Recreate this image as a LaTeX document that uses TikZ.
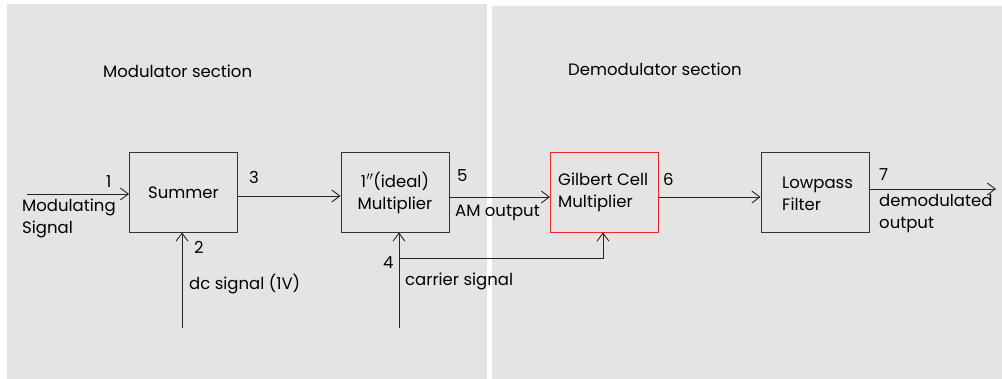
\documentclass[tikz,border=0pt]{standalone}
\usepackage{fontspec}
\setmainfont{Poppins}
\usetikzlibrary{arrows.meta}
\definecolor{panel}{RGB}{228,228,228}
\definecolor{gilred}{RGB}{235,40,40}
\tikzset{
  blk/.style={draw=black!80, line width=0.9pt, minimum width=108pt, minimum height=80pt, inner sep=0pt, align=left},
  arr/.style={line width=0.9pt, draw=black!85, -{Straight Barb[length=8pt,width=12pt,line width=0.9pt]}},
  lbl/.style={inner sep=0pt, anchor=west, align=left, font=\fontsize{16.5}{22}\selectfont},
}
\begin{document}
\begin{tikzpicture}[x=1pt,y=-1pt]
\useasboundingbox (0,0) rectangle (1002,379);
\fill[white] (0,0) rectangle (1002,379);
\fill[panel] (7,4) rectangle (487,379);
\fill[panel] (492,6) rectangle (1002,379);

\node[lbl] (tmod) at (103,71) {Modulator section};
\node[lbl] (tdem) at (568,69) {Demodulator section};

\node[blk] (sum) at (183.5,192) {};
\node[lbl] (sumt) at (148,193) {Summer};
\node[blk] (mul) at (395,192) {};
\node[lbl, align=center, anchor=center] (mult) at (395,192.5) {1$^{\prime\prime}$(ideal)\\Multiplier};
\node[blk, draw=gilred] (gil) at (604.5,192) {};
\node[lbl] (gilt) at (558,192.5) {Gilbert Cell\\Multiplier};
\node[blk] (lp) at (815,192) {};
\node[lbl] (lpt) at (782,193.5) {Lowpass\\Filter};

% input
\coordinate (in) at (27,194);
\draw[arr] (in) -- (sum.west |- in);
\node[lbl] (n1) at (106,182) {1};
\node[lbl] (tmodsig) at (22,218.5) {Modulating\\Signal};

% dc
\coordinate (dc) at (182,328);
\draw[arr] (dc) -- (dc |- sum.south);
\node[lbl] (n2) at (194,247) {2};
\node[lbl] (tdc) at (189,284) {dc signal (1V)};

% summer -> multiplier
\draw[arr] ([yshift=-4pt]sum.east) -- ([yshift=-4pt]mul.west);
\node[lbl] (n3) at (249,177) {3};

% carrier
\coordinate (car) at (399,328);
\coordinate (br) at (399,258);
\draw[arr] (car) -- (car |- mul.south);
\draw[arr] (br) -| ([xshift=-1.5pt]gil.south);
\node[lbl] (n4) at (383,263) {4};
\node[lbl] (tcar) at (405,281) {carrier signal};

% multiplier -> gilbert
\draw[arr] ([yshift=-5pt]mul.east) -- ([yshift=-5pt]gil.west);
\node[lbl] (n5) at (457,176) {5};
\node[lbl] (tam) at (455,213) {AM output};

% gilbert -> lowpass
\draw[arr] ([yshift=-5pt]gil.east) -- ([yshift=-5pt]lp.west);
\node[lbl] (n6) at (663,179) {6};

% output
\coordinate (out) at (996,189);
\draw[arr] (lp.east |- out) -- (out);
\node[lbl] (n7) at (879,175) {7};
\node[lbl] (tout) at (879,214) {demodulated\\output};
\end{tikzpicture}
\end{document}
